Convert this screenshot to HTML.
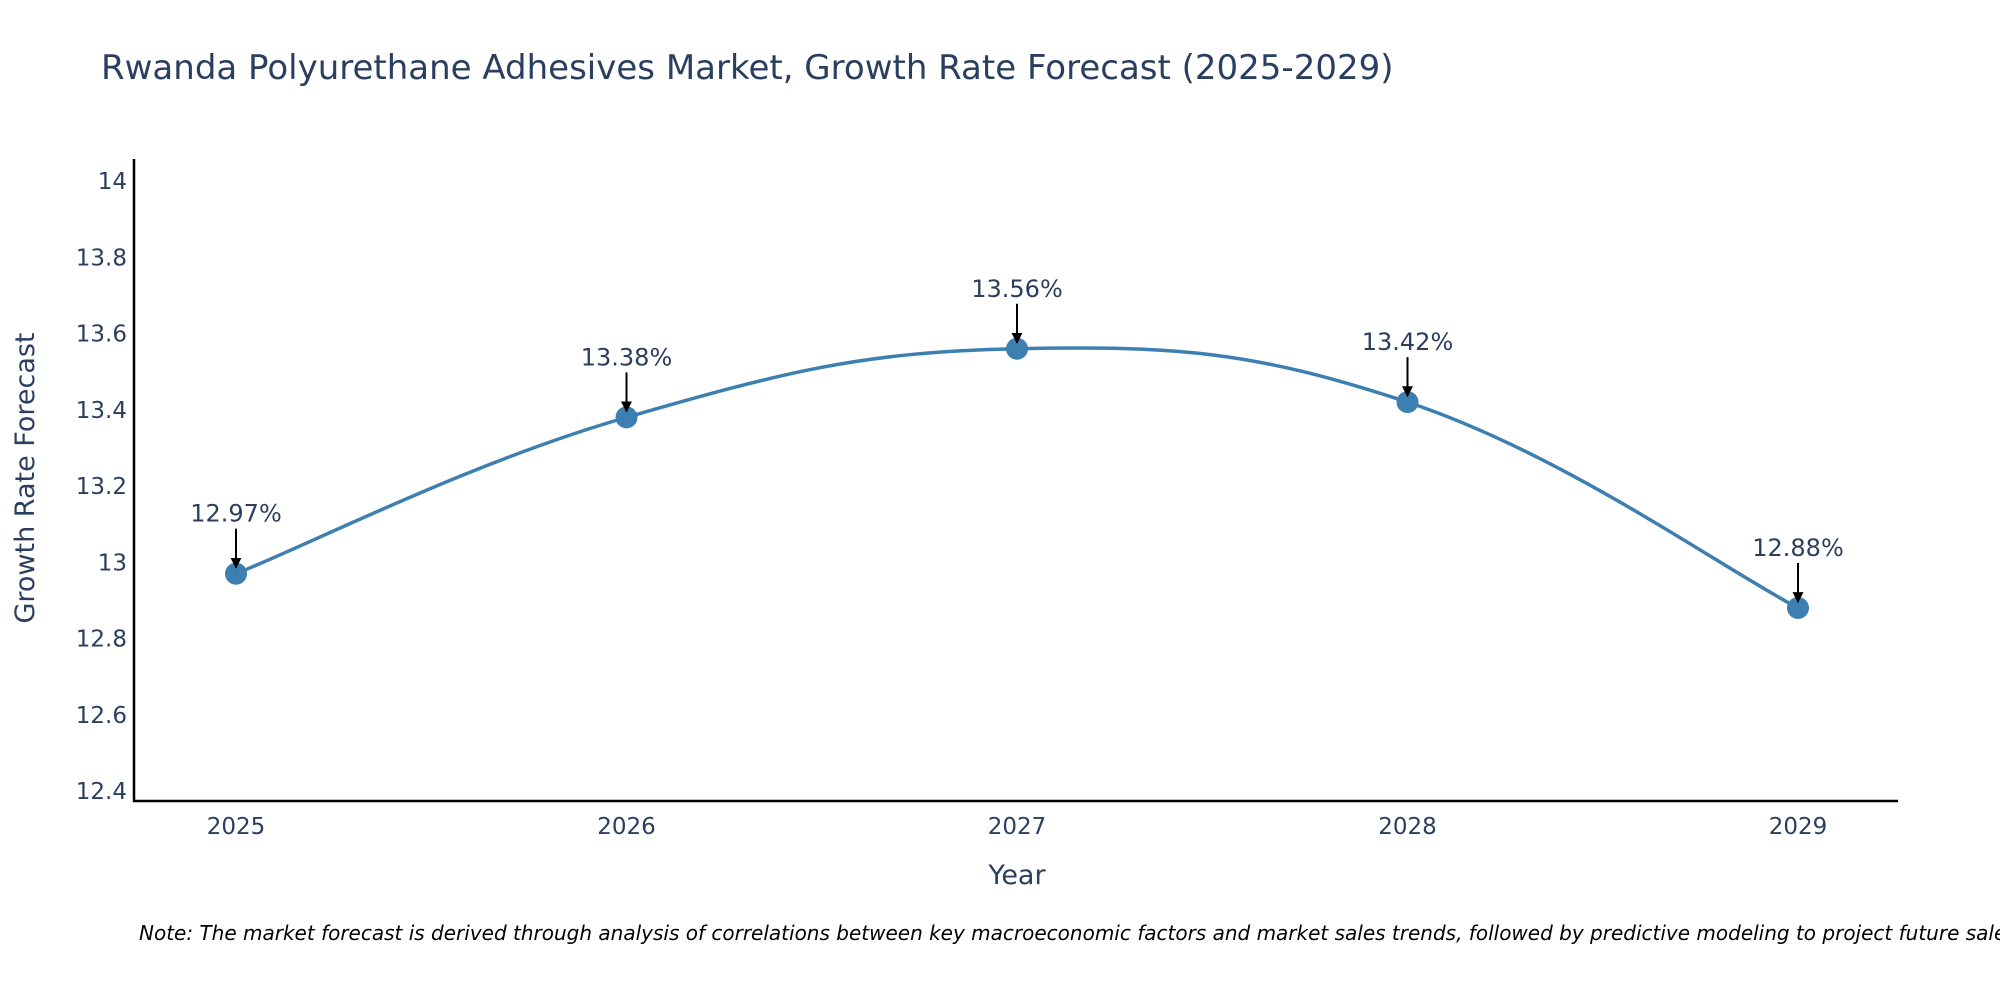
<!DOCTYPE html>
<html><head><meta charset="utf-8"><style>
body{margin:0;background:#fff;width:2000px;height:1000px;overflow:hidden}
svg{font-family:"DejaVu Sans","Liberation Sans",sans-serif}
</style></head><body>
<svg id="chart" width="2000" height="1000" xmlns="http://www.w3.org/2000/svg">
<text x="101" y="79" font-size="34" fill="#2a3f5f">Rwanda Polyurethane Adhesives Market, Growth Rate Forecast (2025-2029)</text>
<g id="yticks"></g>
<g id="xticks"></g>
<line x1="134" y1="159" x2="134" y2="802" stroke="#000" stroke-width="2.5"/>
<line x1="133" y1="801" x2="1898" y2="801" stroke="#000" stroke-width="2.5"/>
<path id="line" fill="none" stroke="#3d7fb0" stroke-width="3.5"/>
<g id="points"></g>
<text transform="translate(34,478) rotate(-90)" text-anchor="middle" font-size="27" fill="#2a3f5f">Growth Rate Forecast</text>
<text x="1017" y="884" text-anchor="middle" font-size="27" fill="#2a3f5f">Year</text>
<text x="139" y="940" font-size="20" font-style="italic" fill="#000">Note: The market forecast is derived through analysis of correlations between key macroeconomic factors and market sales trends, followed by predictive modeling to project future sales.</text>
<defs><marker id="ah" viewBox="0 0 10 10" refX="9" refY="5" markerWidth="7" markerHeight="7" markerUnits="userSpaceOnUse" orient="auto"><path d="M0,0L10,5L0,10z" fill="#000"/></marker>
<marker id="ah2" viewBox="0 0 10 10" refX="9" refY="5" markerWidth="5.5" markerHeight="5.5" orient="auto"><path d="M0,0L10,5L0,10z" fill="#000"/></marker></defs>
</svg>
<script>
const years=["2025","2026","2027","2028","2029"];
const values=[12.97,13.38,13.56,13.42,12.88];
const labels=["12.97%","13.38%","13.56%","13.42%","12.88%"];
const yTicks=[12.4,12.6,12.8,13,13.2,13.4,13.6,13.8,14];
const NS="http://www.w3.org/2000/svg";
const svg=document.getElementById('chart');
function xs(i){return 236+i*390.5;}
function ys(v){return 791-(v-12.4)*381.25;}
function mk(tag,attrs,parent,txt){const e=document.createElementNS(NS,tag);for(const k in attrs)e.setAttribute(k,attrs[k]);if(txt!==undefined)e.textContent=txt;parent.appendChild(e);return e;}
const yg=document.getElementById('yticks');
yTicks.forEach(t=>{const e=mk('text',{x:127,y:ys(t)+8,'text-anchor':'end','font-size':23,fill:'#2a3f5f'},yg,String(t));

});
const xg=document.getElementById('xticks');
years.forEach((y,i)=>{const e=mk('text',{x:xs(i),y:834,'text-anchor':'middle','font-size':23,fill:'#2a3f5f'},xg,y);

});
const P=values.map((v,i)=>[xs(i),ys(v)]);
let d='M'+P[0][0]+','+P[0][1];const s=0.2;
for(let i=0;i<P.length-1;i++){const p0=P[Math.max(i-1,0)],p1=P[i],p2=P[i+1],p3=P[Math.min(i+2,P.length-1)];
d+=' C'+(p1[0]+(p2[0]-p0[0])*s)+','+(p1[1]+(p2[1]-p0[1])*s)+' '+(p2[0]-(p3[0]-p1[0])*s)+','+(p2[1]-(p3[1]-p1[1])*s)+' '+p2[0]+','+p2[1];}
document.getElementById('line').setAttribute('d',d);
const pg=document.getElementById('points');
P.forEach((p,i)=>{const c=mk('circle',{cx:p[0],cy:p[1],r:11,fill:'#3d7fb0'},pg);


const a=mk('line',{x1:p[0],y1:p[1]-45,x2:p[0],y2:p[1]-6,stroke:'#000','stroke-width':2,'marker-end':'url(#ah2)'},svg);


const t=mk('text',{x:p[0],y:p[1]-52,'text-anchor':'middle','font-size':24,fill:'#2a3f5f'},svg,labels[i]);

});
</script>
</body></html>
